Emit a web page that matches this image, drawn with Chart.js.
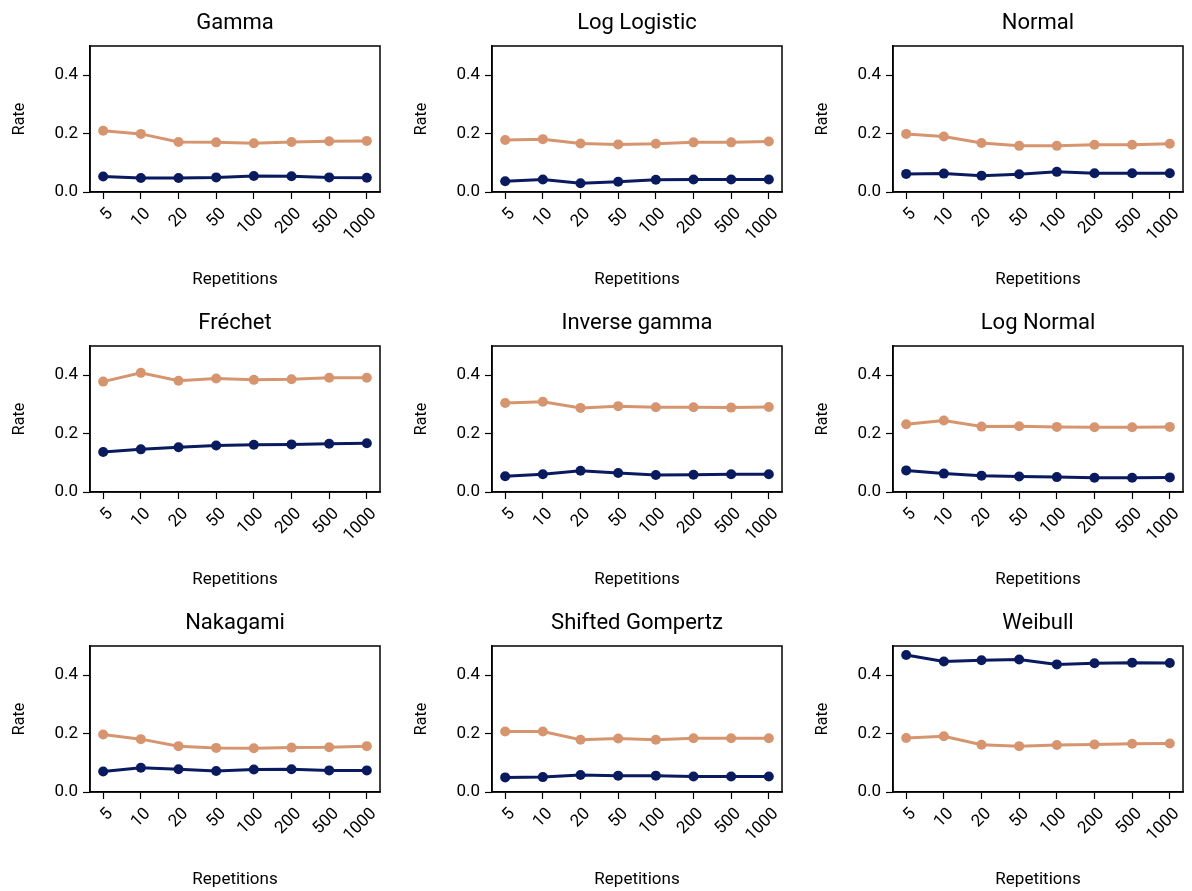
<!DOCTYPE html>
<html>
<head>
<meta charset="utf-8">
<script src="https://cdn.jsdelivr.net/npm/chart.js@4"></script>
<style>
  body { margin: 0; background: #fff; }
  #wrap { position: relative; width: 1192px; height: 891px; }
  .panel { position: absolute; width: 397px; height: 300px; }
</style>
</head>
<body>
<div id="wrap"></div>
<script>
// Shared x categories
const repetitions = ['5', '10', '20', '50', '100', '200', '500', '1000'];
const yTicks = [0, 0.2, 0.4];

// Panel titles, row by row
const titles = ['Gamma', 'Log Logistic', 'Normal', 'Fréchet', 'Inverse gamma',
  'Log Normal', 'Nakagami', 'Shifted Gompertz', 'Weibull'];

// Upper (orange) series per panel
const orangeGamma = [0.210, 0.199, 0.171, 0.170, 0.167, 0.171, 0.174, 0.175];
const orangeLogLogistic = [0.178, 0.181, 0.166, 0.163, 0.165, 0.170, 0.170, 0.173];
const orangeNormal = [0.199, 0.190, 0.168, 0.158, 0.158, 0.162, 0.162, 0.165];
const orangeFrechet = [0.378, 0.408, 0.381, 0.389, 0.384, 0.386, 0.391, 0.391];
const orangeInvGamma = [0.305, 0.309, 0.288, 0.294, 0.290, 0.290, 0.289, 0.291];
const orangeLogNormal = [0.232, 0.245, 0.224, 0.225, 0.223, 0.222, 0.222, 0.223];
const orangeNakagami = [0.197, 0.181, 0.157, 0.151, 0.150, 0.152, 0.153, 0.157];
const orangeGompertz = [0.207, 0.207, 0.179, 0.183, 0.179, 0.184, 0.184, 0.184];
const orangeWeibull = [0.185, 0.191, 0.162, 0.157, 0.161, 0.163, 0.165, 0.166];

// Navy series per panel
const navyGamma = [0.053, 0.048, 0.048, 0.050, 0.055, 0.054, 0.050, 0.049];
const navyLogLogistic = [0.037, 0.043, 0.030, 0.035, 0.042, 0.043, 0.043, 0.043];
const navyNormal = [0.062, 0.063, 0.056, 0.061, 0.069, 0.064, 0.064, 0.064];
const navyFrechet = [0.137, 0.146, 0.153, 0.159, 0.162, 0.163, 0.165, 0.167];
const navyInvGamma = [0.054, 0.061, 0.073, 0.065, 0.058, 0.059, 0.061, 0.061];
const navyLogNormal = [0.074, 0.063, 0.056, 0.053, 0.051, 0.049, 0.049, 0.050];
const navyNakagami = [0.070, 0.083, 0.078, 0.072, 0.077, 0.078, 0.074, 0.074];
const navyGompertz = [0.050, 0.051, 0.058, 0.056, 0.056, 0.053, 0.053, 0.053];
const navyWeibull = [0.469, 0.447, 0.451, 0.454, 0.437, 0.441, 0.443, 0.442];

const orangeSeries = [orangeGamma, orangeLogLogistic, orangeNormal, orangeFrechet,
  orangeInvGamma, orangeLogNormal, orangeNakagami, orangeGompertz, orangeWeibull];
const navySeries = [navyGamma, navyLogLogistic, navyNormal, navyFrechet,
  navyInvGamma, navyLogNormal, navyNakagami, navyGompertz, navyWeibull];

const ORANGE = '#d6956f';
const NAVY = '#0a1a5f';
const FONT = 'Roboto, "DejaVu Sans", sans-serif';

// Draw box frame and centered title over plot area
const framePlugin = {
  id: 'frame',
  afterDraw(chart, args, opts) {
    const { ctx, chartArea: a } = chart;
    ctx.save();
    ctx.strokeStyle = '#000';
    ctx.lineWidth = 1.5;
    ctx.strokeRect(a.left, a.top, a.right - a.left, a.bottom - a.top);
    ctx.fillStyle = '#000';
    ctx.font = '22px ' + FONT;
    ctx.textAlign = 'center';
    ctx.textBaseline = 'middle';
    ctx.fillText(opts.text, (a.left + a.right) / 2, a.top - 23);
    ctx.restore();
  }
};

function toPoints(arr) {
  return arr.map((v, i) => ({ x: i, y: v }));
}

function makeDataset(arr, color) {
  return {
    data: toPoints(arr),
    borderColor: color,
    backgroundColor: color,
    borderWidth: 3,
    pointRadius: 5,
    pointHoverRadius: 5,
    pointBorderWidth: 0
  };
}

const colLeft = [90, 492, 893];
const rowTop = [46, 346, 646];
const wrap = document.getElementById('wrap');

titles.forEach((title, k) => {
  const c = k % 3, r = Math.floor(k / 3);
  const div = document.createElement('div');
  div.className = 'panel';
  div.style.left = (colLeft[c] - 90) + 'px';
  div.style.top = (rowTop[r] - 46) + 'px';
  const canvas = document.createElement('canvas');
  div.appendChild(canvas);
  wrap.appendChild(div);

  new Chart(canvas, {
    type: 'line',
    data: {
      datasets: [makeDataset(orangeSeries[k], ORANGE), makeDataset(navySeries[k], NAVY)]
    },
    options: {
      responsive: true,
      maintainAspectRatio: false,
      animation: false,
      events: [],
      layout: { padding: { top: 46, right: 17, left: 6, bottom: 0 } },
      plugins: {
        legend: { display: false },
        tooltip: { enabled: false },
        frame: { text: title }
      },
      scales: {
        x: {
          type: 'linear',
          min: -0.35,
          max: 7.35,
          afterBuildTicks: s => { s.ticks = repetitions.map((_, i) => ({ value: i })); },
          afterFit: s => { s.height = 108; },
          grid: { drawOnChartArea: false, tickLength: 7, tickColor: '#000', tickWidth: 1.2 },
          border: { color: '#000', width: 1.5 },
          ticks: {
            minRotation: 45, maxRotation: 45, padding: 5, labelOffset: 7,
            color: '#000', font: { family: FONT, size: 17 },
            callback: v => repetitions[v]
          },
          title: {
            display: true, text: 'Repetitions', color: '#000',
            font: { family: FONT, size: 17 }, padding: { top: 0, bottom: 10 }
          }
        },
        y: {
          min: 0,
          max: 0.5,
          afterBuildTicks: s => { s.ticks = yTicks.map(v => ({ value: v })); },
          afterFit: s => { s.width = 84; },
          grid: { drawOnChartArea: false, tickLength: 7, tickColor: '#000', tickWidth: 1.2 },
          border: { color: '#000', width: 1.5 },
          ticks: {
            padding: 5, color: '#000', font: { family: FONT, size: 17 },
            callback: v => v.toFixed(1)
          },
          title: {
            display: true, text: 'Rate', color: '#000',
            font: { family: FONT, size: 16 }, padding: { top: 4, bottom: 4 }
          }
        }
      }
    },
    plugins: [framePlugin]
  });
});
</script>
</body>
</html>
